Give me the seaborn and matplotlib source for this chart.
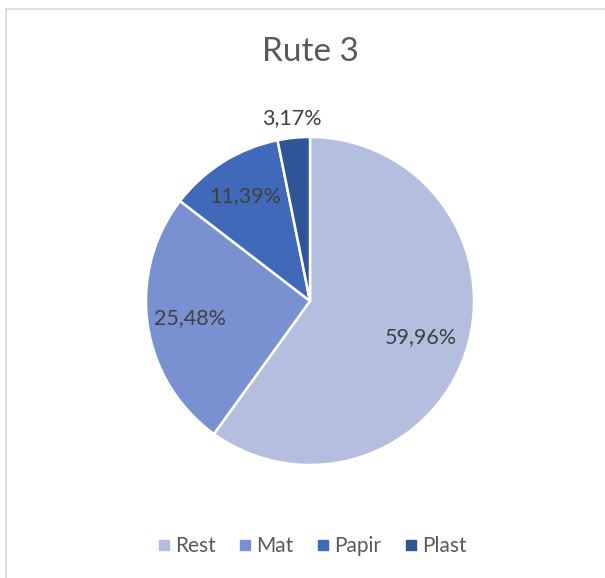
import numpy as np
import matplotlib
matplotlib.use("Agg")
import matplotlib.pyplot as plt
import seaborn as sns
from matplotlib.lines import Line2D

sns.set_theme(style="white")
plt.rcParams['font.family'] = ['Lato', 'DejaVu Sans']

# Data
categories = ["Rest", "Mat", "Papir", "Plast"]
shares = [59.96, 25.48, 11.39, 3.17]
colors = ["#B4BFDF", "#7A91D1", "#4169BA", "#2F5597"]
title = "Rute 3"
text_color = "#595959"

W, H = 605, 578
fig = plt.figure(figsize=(W / 100, H / 100), dpi=100)

# frame of the chart area
fig.add_artist(Line2D([6 / W, 1], [1 - 9 / H, 1 - 9 / H], color="#D9D9D9", lw=1.2))
fig.add_artist(Line2D([6 / W, 6 / W], [0, 1 - 9 / H], color="#D9D9D9", lw=1.2))

cx, cy, r = 310, 301, 164
ax = fig.add_axes([(cx - r) / W, (H - cy - r) / H, 2 * r / W, 2 * r / H])

wedges, _ = ax.pie(shares, colors=colors, startangle=90, counterclock=False,
                   radius=1, wedgeprops=dict(edgecolor="white", linewidth=1.8))
ax.set_xlim(-1, 1)
ax.set_ylim(-1, 1)
ax.axis("off")
for w in wedges:
    w.set_clip_on(False)

# data labels
dists = [0.71, 0.74, 0.75, 1.12]
for w, val, d in zip(wedges, shares, dists):
    ang = np.deg2rad((w.theta1 + w.theta2) / 2)
    lbl = f"{val:.2f}%".replace(".", ",")
    ax.text(d * np.cos(ang), d * np.sin(ang), lbl, ha="center", va="center",
            fontsize=15.5, color="#404040", clip_on=False)

fig.text(cx / W, 1 - 52 / H, title, ha="center", va="center", fontsize=24, color=text_color)

handles = [Line2D([], [], marker="s", linestyle="", markersize=7,
                  markerfacecolor=c, markeredgecolor=c) for c in colors]
fig.legend(handles, categories, loc="center", bbox_to_anchor=(cx / W, 1 - 546 / H),
           ncol=4, frameon=False, fontsize=15, labelcolor=text_color,
           handletextpad=0.05, columnspacing=0.9, handlelength=1.0)

fig.savefig("out.png", dpi=100, facecolor="white")
